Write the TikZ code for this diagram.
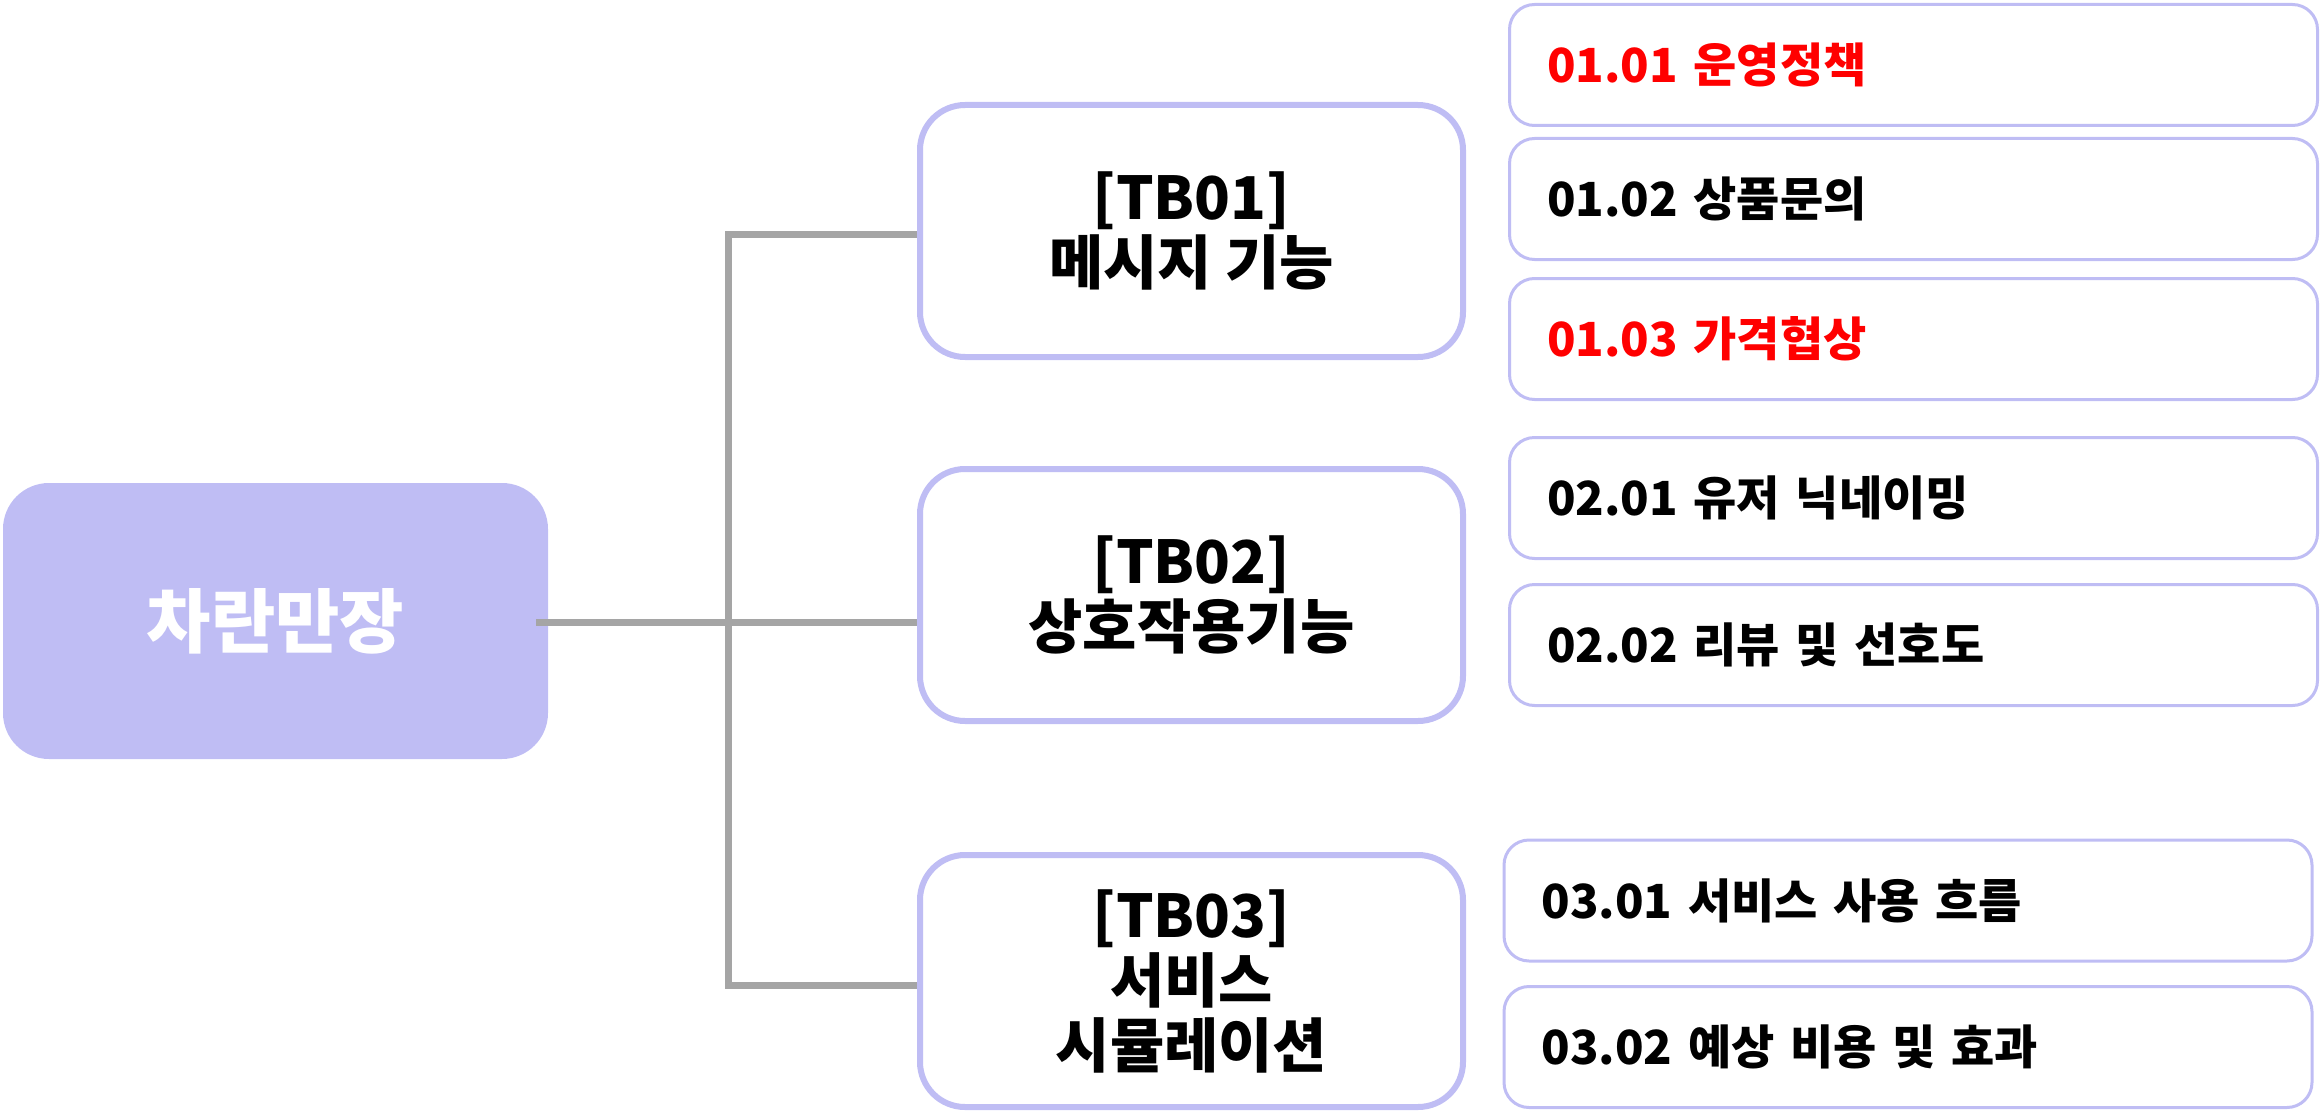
\documentclass[tikz,border=0pt]{standalone}
\usepackage{fontspec}
\setmainfont{Noto Sans CJK KR}
\definecolor{lav}{RGB}{191,189,244}
\definecolor{linegray}{RGB}{165,165,165}
\definecolor{redtxt}{RGB}{255,0,0}
\begin{document}
\begin{tikzpicture}[x=0.5pt,y=-0.5pt,
  rootbox/.style={draw=none, fill=lav, rounded corners=23pt, minimum width=272.5pt, minimum height=138pt,
    text=white, font=\fontsize{35}{40}\selectfont\bfseries, inner sep=0pt},
  tbbox/.style={draw=lav, line width=3pt, fill=white, rounded corners=22.5pt, minimum width=271.5pt, minimum height=126pt,
    align=center, font=\fontsize{29.5}{32.5}\selectfont\bfseries, inner sep=0pt},
  leafbox/.style={draw=lav, line width=1.5pt, fill=white, rounded corners=12.5pt, minimum height=60.5pt,
    text width=366.5pt, inner xsep=18.75pt, inner ysep=0pt, align=left, font=\fontsize{23.5}{28}\selectfont\bfseries},
  redleaf/.style={leafbox, text=redtxt},
  conn/.style={draw=linegray, line width=3.5pt}]
\useasboundingbox (0,0) rectangle (2323,1113);

% root and TB nodes
\node[rootbox] (root) at (275.5,621) {차란만장};
\node[tbbox] (tb1) at (1191.5,231) {[TB01]\\메시지 기능};
\node[tbbox] (tb2) at (1191.5,595) {[TB02]\\상호작용기능};
\node[tbbox] (tb3) at (1191.5,981) {[TB03]\\서비스\\시뮬레이션};

% leaves
\node[redleaf]  (l11) at (1913.5,65)  {01.01 운영정책};
\node[leafbox]  (l12) at (1913.5,199) {01.02 상품문의};
\node[redleaf]  (l13) at (1913.5,339) {01.03 가격협상};
\node[leafbox]  (l21) at (1913.5,498) {02.01 유저 닉네이밍};
\node[leafbox]  (l22) at (1913.5,645) {02.02 리뷰 및 선호도};
\node[leafbox]  (l31) at (1908,900.5) {03.01 서비스 사용 흐름};
\node[leafbox]  (l32) at (1908,1047)  {03.02 예상 비용 및 효과};

% junction coordinates
\coordinate (jt) at (728,234);
\coordinate (jm) at (728,622);
\coordinate (jb) at (728,985);

% connectors
\draw[conn] (tb1.west |- jt) -- (jt) -- (jb) -- (tb3.west |- jb);
\draw[conn] ([xshift=-6pt]root.east |- jm) -- (jm) -- (tb2.west |- jm);
\end{tikzpicture}
\end{document}
